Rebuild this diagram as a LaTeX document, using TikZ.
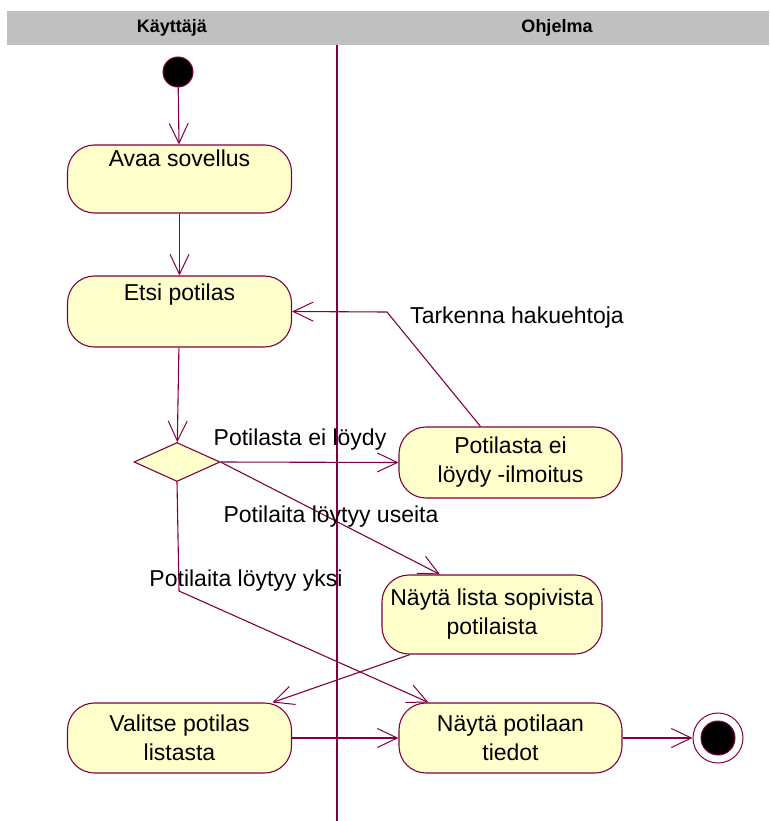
\documentclass[tikz,border=0pt]{standalone}
\usepackage{fontspec}
\setmainfont{Liberation Sans}
\newfontfamily\lanefont[BoldFont={Liberation Sans Bold}]{Liberation Sans}
\usetikzlibrary{arrows.meta, positioning, shapes.geometric, calc}
\definecolor{umlline}{RGB}{128,0,64}
\definecolor{actfill}{RGB}{255,255,204}
\definecolor{lanegray}{RGB}{192,192,192}

\begin{document}
\begin{tikzpicture}[
  x=1pt, y=-1pt,
  act/.style={draw=umlline, line width=1.1pt, fill=actfill, rounded corners=27pt, minimum width=224pt, minimum height=70pt, inner sep=0pt, align=center, font=\fontsize{23}{29}\selectfont},
  decision/.style={diamond, draw=umlline, line width=1.1pt, fill=actfill, minimum width=86pt, minimum height=39pt, inner sep=0pt},
  initstate/.style={circle, fill=black, draw=umlline, line width=1pt, minimum size=30pt, inner sep=0pt},
  finalstate/.style={circle, draw=umlline, line width=1pt, minimum size=50pt, inner sep=0pt, path picture={\fill[black, draw=umlline] (path picture bounding box.center) circle (17pt);}},
  lbl/.style={inner sep=0pt, anchor=base, font=\fontsize{23}{29}\selectfont},
  lanehead/.style={font=\lanefont\bfseries\fontsize{18}{20}\selectfont},
  arr/.style={-{Straight Barb[length=20pt, width=19pt, line width=1pt]}, umlline, line width=1.1pt}
]
\useasboundingbox (0,0) rectangle (769,821);

% swimlanes
\fill[lanegray] (7,11) rectangle (769,45);
\node[lanehead] (hdrUser) at (172,28) {Käyttäjä};
\node[lanehead] (hdrProg) at (557,28) {Ohjelma};
\draw[umlline, line width=1.1pt] (337,45) -- (337,821);

\node[initstate] (start) at (178,72) {};
\node[act, minimum height=68pt, text height=22pt, text depth=46pt] (avaa) at (179.5,179) {Avaa sovellus};
\node[act, minimum height=71pt, text height=24pt, text depth=47pt] (etsi) at (179.5,311.5) {Etsi potilas};
\node[decision] (dec) at (177,462) {};
\node[act, minimum width=223pt, minimum height=71pt] (eiloydy) at (510.5,462.5) {Potilasta ei\\löydy -ilmoitus};
\node[act, minimum width=220pt, minimum height=79pt] (lista) at (492,614.5) {Näytä lista sopivista\\potilaista};
\node[act] (valitse) at (179.5,738) {Valitse potilas\\listasta};
\node[act, minimum width=223pt] (tiedot) at (510.5,738) {Näytä potilaan\\tiedot};
\node[finalstate] (stop) at (718,738) {};

\coordinate (bendBack) at (387,312);
\coordinate (bendOne) at (179,591);

\draw[arr] (start) -- (avaa);
\draw[arr] (avaa) -- (etsi);
\draw[arr] (etsi) -- (dec);
\draw[arr] (dec.east) -- (eiloydy.west);
\draw[arr] ($(eiloydy.north)+(-30,0)$) -- (bendBack) -- (etsi.east);
\draw[arr] (dec.east) -- ($(lista.north)+(-52,0)$);
\draw[arr] (dec.south) -- (bendOne) -- ($(tiedot.north)+(-82,0)$);
\draw[arr] ($(lista.south)+(-82,0)$) -- ($(valitse.north)+(93,0)$);
\draw[arr] (valitse.east) -- (tiedot.west);
\draw[arr] (tiedot.east) -- (stop.west);

\node[lbl] (lblNotFound) at (300,445) {Potilasta ei löydy};
\node[lbl] (lblRefine) at (517,323) {Tarkenna hakuehtoja};
\node[lbl] (lblMany) at (331,522) {Potilaita löytyy useita};
\node[lbl] (lblOne) at (246,586) {Potilaita löytyy yksi};
\end{tikzpicture}
\end{document}
